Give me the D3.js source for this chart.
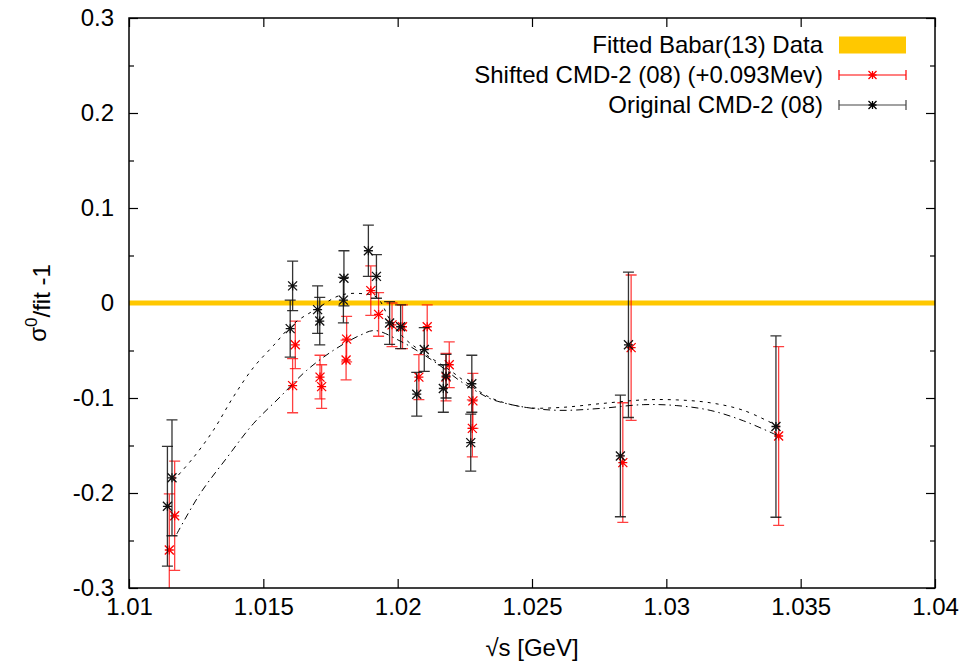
<!DOCTYPE html>
<html>
<head>
<meta charset="utf-8">
<script src="https://cdn.jsdelivr.net/npm/d3@7"></script>
<style>
body { margin: 0; background: #fff; }
text { font-family: "Liberation Sans", Arial, Helvetica, sans-serif; }
</style>
</head>
<body>
<div id="graph"></div>
<script>
/*global d3*/
// données
var origX = [1.01143, 1.01160, 1.01600, 1.01609, 1.01702, 1.01710, 1.01800, 1.01798, 1.01891, 1.01921, 1.01970,
             1.02011, 1.02071, 1.02099, 1.02170, 1.02180, 1.02272, 1.02276, 1.02829, 1.02859, 1.03408];
var origY = [-0.214, -0.184, -0.027, 0.018, -0.007, -0.019, 0.026, 0.003, 0.055, 0.028, -0.021,
             -0.025, -0.096, -0.049, -0.090, -0.077, -0.147, -0.085, -0.161, -0.044, -0.130];
var origErr = [0.063, 0.061, 0.030, 0.026, 0.025, 0.025, 0.029, 0.024, 0.027, 0.023, 0.0225,
               0.023, 0.023, 0.023, 0.025, 0.023, 0.030, 0.030, 0.064, 0.0765, 0.0955];

var shiftX = [1.01150, 1.01170, 1.01609, 1.01619, 1.01711, 1.01717, 1.01810, 1.01808, 1.01900, 1.01929, 1.01979,
              1.02018, 1.02079, 1.02110, 1.02180, 1.02192, 1.02278, 1.02280, 1.02838, 1.02869, 1.03418];
var shiftY = [-0.260, -0.224, -0.087, -0.044, -0.078, -0.088, -0.038, -0.060, 0.013, -0.012, -0.023,
              -0.025, -0.078, -0.025, -0.078, -0.065, -0.132, -0.103, -0.168, -0.047, -0.140];
var shiftErr = [0.059, 0.0575, 0.0285, 0.025, 0.023, 0.023, 0.024, 0.021, 0.026, 0.023, 0.023,
                0.023, 0.0237, 0.023, 0.025, 0.024, 0.030, 0.029, 0.063, 0.0765, 0.094];

// courbes d'ajustement (pointillés = original, tiret-point = décalé)
var fitOrigX = [1.01165, 1.01239, 1.01314, 1.01388, 1.01463, 1.01537, 1.01612, 1.01699, 1.01785, 1.01860, 1.01922,
                1.01972, 1.02021, 1.02083, 1.02195, 1.02282, 1.02356, 1.02480, 1.02604, 1.02753, 1.02914,
                1.03039, 1.03163, 1.03287, 1.03411];
var fitOrigY = [-0.187, -0.163, -0.134, -0.099, -0.068, -0.045, -0.022, -0.006, 0.008, 0.010, 0.006,
                -0.018, -0.036, -0.050, -0.071, -0.089, -0.101, -0.110, -0.110, -0.106, -0.102,
                -0.102, -0.105, -0.113, -0.129];
var fitShiftX = [1.01178, 1.01264, 1.01364, 1.01463, 1.01562, 1.01661, 1.01760, 1.01860, 1.01916, 1.02009, 1.02083,
                 1.02158, 1.02232, 1.02306, 1.02356, 1.02480, 1.02604, 1.02753, 1.02914, 1.03039, 1.03163,
                 1.03287, 1.03418];
var fitShiftY = [-0.243, -0.201, -0.163, -0.127, -0.099, -0.071, -0.050, -0.034, -0.029, -0.040, -0.052,
                 -0.066, -0.082, -0.095, -0.102, -0.110, -0.113, -0.111, -0.107, -0.108, -0.113,
                 -0.124, -0.140];

var xTicks = [1.01, 1.015, 1.02, 1.025, 1.03, 1.035, 1.04];
var xTickLabels = ["1.01", "1.015", "1.02", "1.025", "1.03", "1.035", "1.04"];
var yTicks = [-0.3, -0.2, -0.1, 0, 0.1, 0.2, 0.3];
var yTickLabels = ["-0.3", "-0.2", "-0.1", "0", "0.1", "0.2", "0.3"];
var yMinor = [-0.25, -0.15, -0.05, 0.05, 0.15, 0.25];
var babarLevel = 0;

var legendLabels = ["Fitted Babar(13) Data", "Shifted CMD-2 (08) (+0.093Mev)", "Original CMD-2 (08)"];

// marges et dimensions
var totalWidth = 960, totalHeight = 662,
    margin = {top: 18, right: 25, bottom: 74, left: 129},
    width = totalWidth - margin.left - margin.right,
    height = totalHeight - margin.top - margin.bottom;

var x = d3.scaleLinear().domain([1.01, 1.04]).range([0, width]),
    y = d3.scaleLinear().domain([-0.3, 0.3]).range([height, 0]);

var root = d3.select("#graph").append("svg")
    .attr("width", totalWidth)
    .attr("height", totalHeight);
var svg = root.append("g")
    .attr("transform", "translate(" + margin.left + "," + margin.top + ")");

svg.append("clipPath").attr("id", "zone")
    .append("rect").attr("width", width).attr("height", height);

var fontSize = 24;

// axes (graduations vers l'intérieur)
svg.append("g")
    .attr("transform", "translate(0," + height + ")")
    .call(d3.axisBottom(x).tickValues(xTicks).tickSizeInner(-9).tickSizeOuter(0).tickPadding(10)
        .tickFormat(function(d, i) { return xTickLabels[i]; }));
svg.append("g")
    .call(d3.axisTop(x).tickValues(xTicks).tickSizeInner(-9).tickSizeOuter(0).tickFormat(""));
svg.append("g")
    .call(d3.axisLeft(y).tickValues(yTicks).tickSizeInner(-9).tickSizeOuter(0).tickPadding(15)
        .tickFormat(function(d, i) { return yTickLabels[i]; }));
svg.append("g")
    .call(d3.axisLeft(y).tickValues(yMinor).tickSizeInner(-5).tickSizeOuter(0).tickFormat(""));
svg.append("g")
    .attr("transform", "translate(" + width + ",0)")
    .call(d3.axisRight(y).tickValues(yTicks).tickSizeInner(-9).tickSizeOuter(0).tickFormat(""));
svg.append("g")
    .attr("transform", "translate(" + width + ",0)")
    .call(d3.axisRight(y).tickValues(yMinor).tickSizeInner(-5).tickSizeOuter(0).tickFormat(""));
svg.selectAll(".domain").remove();
svg.selectAll(".tick line").attr("stroke", "#000").attr("stroke-width", 1.2);
svg.selectAll(".tick text").attr("font-size", fontSize).attr("fill", "#000")
    .attr("font-family", "Liberation Sans, Arial, sans-serif");

// données Babar (ligne jaune)
svg.append("line")
    .attr("x1", 0).attr("x2", width)
    .attr("y1", y(babarLevel)).attr("y2", y(babarLevel))
    .attr("stroke", "#ffc800").attr("stroke-width", 5);

function star(cx, cy, r) {
    return "M" + (cx - r) + "," + cy + "L" + (cx + r) + "," + cy +
        "M" + cx + "," + (cy - r) + "L" + cx + "," + (cy + r) +
        "M" + (cx - r) + "," + (cy - r) + "L" + (cx + r) + "," + (cy + r) +
        "M" + (cx - r) + "," + (cy + r) + "L" + (cx + r) + "," + (cy - r);
}

function errorBars(xs, ys, errs, colour, opacity) {
    var g = svg.append("g").attr("clip-path", "url(#zone)");
    var pts = xs.map(function(d, i) { return {x: d, y: ys[i], e: errs[i]}; });
    var cap = 5.5;
    pts.forEach(function(p) {
        var cx = x(p.x), lo = y(p.y - p.e), hi = y(p.y + p.e);
        g.append("path")
            .attr("d", "M" + cx + "," + lo + "L" + cx + "," + hi +
                "M" + (cx - cap) + "," + lo + "L" + (cx + cap) + "," + lo +
                "M" + (cx - cap) + "," + hi + "L" + (cx + cap) + "," + hi)
            .attr("fill", "none")
            .attr("stroke", colour)
            .attr("stroke-opacity", opacity)
            .attr("stroke-width", 1.3);
        g.append("path")
            .attr("d", star(cx, y(p.y), 4.5))
            .attr("stroke", colour)
            .attr("stroke-width", 1.3);
    });
}

errorBars(shiftX, shiftY, shiftErr, "#ff0000", 0.75);
errorBars(origX, origY, origErr, "#111", 0.85);

// courbes d'ajustement
var ligne = d3.line()
    .x(function(d) { return x(d[0]); })
    .y(function(d) { return y(d[1]); })
    .curve(d3.curveCatmullRom);
svg.append("path")
    .datum(fitOrigX.map(function(d, i) { return [d, fitOrigY[i]]; }))
    .attr("fill", "none").attr("stroke", "#000").attr("stroke-width", 1)
    .attr("stroke-dasharray", "3,5")
    .attr("d", ligne);
svg.append("path")
    .datum(fitShiftX.map(function(d, i) { return [d, fitShiftY[i]]; }))
    .attr("fill", "none").attr("stroke", "#000").attr("stroke-width", 1)
    .attr("stroke-dasharray", "7,4,1.5,4")
    .attr("d", ligne);

// cadre
svg.append("rect")
    .attr("width", width).attr("height", height)
    .attr("fill", "none").attr("stroke", "#000").attr("stroke-width", 1.5);

// légende
var legend = root.append("g");
var textRight = 823, sx0 = 839, sx1 = 906, rowY = [45, 75, 105];
legendLabels.forEach(function(lab, i) {
    legend.append("text")
        .attr("x", textRight).attr("y", rowY[i]).attr("dy", "0.35em")
        .attr("text-anchor", "end").attr("font-size", fontSize).attr("fill", "#000")
        .text(lab);
});
legend.append("rect")
    .attr("x", sx0).attr("y", rowY[0] - 8.5).attr("width", sx1 - sx0).attr("height", 17)
    .attr("fill", "#ffc800");
[["#ff0000", rowY[1]], ["#444", rowY[2]]].forEach(function(s) {
    var cy = s[1], cx = (sx0 + sx1) / 2;
    legend.append("path")
        .attr("d", "M" + sx0 + "," + cy + "L" + sx1 + "," + cy +
            "M" + sx0 + "," + (cy - 5) + "L" + sx0 + "," + (cy + 5) +
            "M" + sx1 + "," + (cy - 5) + "L" + sx1 + "," + (cy + 5))
        .attr("stroke", s[0]).attr("stroke-width", 1.2).attr("fill", "none");
    legend.append("path")
        .attr("d", star(cx, cy, 4))
        .attr("stroke", s[0] === "#444" ? "#000" : s[0]).attr("stroke-width", 1.3);
});

// titres des axes
root.append("text")
    .attr("x", margin.left + width / 2).attr("y", 656)
    .attr("text-anchor", "middle").attr("font-size", fontSize)
    .text("√s [GeV]");
var yl = root.append("text")
    .attr("transform", "translate(46," + (margin.top + y(0)) + ") rotate(-90)")
    .attr("text-anchor", "middle").attr("font-size", fontSize);
yl.append("tspan").text("σ");
yl.append("tspan").attr("dy", "-0.55em").attr("font-size", 17).text("0");
yl.append("tspan").attr("dy", "0.55em").text("/fit -1");
</script>
</body>
</html>
